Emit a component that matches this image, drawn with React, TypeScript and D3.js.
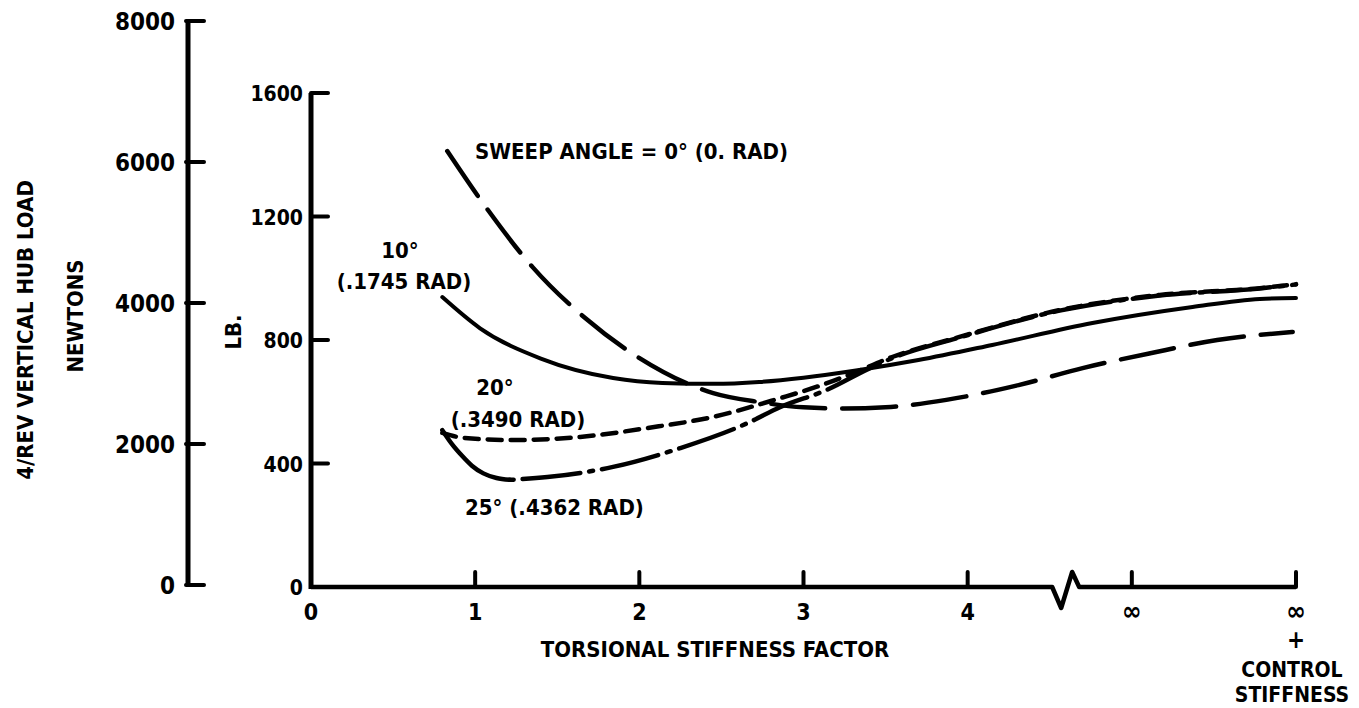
import * as d3 from 'd3'

type Pt = [number, number]

// torsional stiffness factor (5 and 6 = the two "∞" stations) vs 4/rev hub load in lb
const sweep0: Pt[] = [
  [0.83, 1412], [1.06, 1234], [1.35, 1036], [1.67, 871], [1.99, 745], [2.45, 628],
  [2.73, 599], [3.0, 582], [3.25, 578], [3.5, 582], [3.87, 606], [4.31, 654],
  [4.7, 709], [5.12, 758], [5.52, 800], [5.98, 826],
]
const sweep10: Pt[] = [
  [0.8, 939], [1.03, 838], [1.4, 740], [1.84, 677], [2.14, 661], [2.45, 658],
  [2.73, 664], [3.0, 678], [3.34, 703], [3.7, 735], [4.15, 784], [4.76, 855],
  [5.37, 907], [5.78, 933], [6.0, 936],
]
const sweep20: Pt[] = [
  [0.8, 499], [0.93, 483], [1.23, 476], [1.64, 486], [2.05, 515], [2.45, 551],
  [2.86, 612], [3.1, 652], [3.3, 692], [3.54, 745], [3.95, 810], [4.56, 897],
  [5.17, 946], [5.78, 968], [6.0, 981],
]
const sweep25: Pt[] = [
  [0.8, 508], [0.86, 462], [0.92, 425], [0.98, 393], [1.05, 368], [1.13, 353],
  [1.21, 347], [1.44, 356], [1.84, 389], [2.25, 450], [2.66, 531], [2.86, 583],
  [3.14, 638], [3.42, 713], [3.54, 741], [3.95, 808], [4.56, 895], [5.17, 944],
  [5.78, 967], [6.0, 980],
]

const xTicks = [0, 1, 2, 3, 4, 5, 6]
const xTickLabels = ['0', '1', '2', '3', '4', '∞', '∞']
const lbTicks = [0, 400, 800, 1200, 1600]
const newtonTicks = [0, 2000, 4000, 6000, 8000]
const xBreak = 4.6

const W = 1359
const H = 708
const font = "'DejaVu Sans Condensed', 'DejaVu Sans', sans-serif"

export default function App() {
  const x = d3.scaleLinear().domain([0, 6]).range([311, 1296])
  const yLb = d3.scaleLinear().domain([0, 1600]).range([587, 93])
  const yN = d3.scaleLinear().domain([0, 8000]).range([585, 21])
  const nAxisX = 188

  const line = d3
    .line<Pt>()
    .x(d => x(d[0]))
    .y(d => yLb(d[1]))
    .curve(d3.curveMonotoneX)

  const y0 = yLb(0)
  const xb = x(xBreak)
  // solid start of the 25° curve before the dash-dot begins
  const solid25 = sweep25.filter(d => d[0] <= 1.21)
  const rest25 = sweep25.filter(d => d[0] >= 1.21)

  const txt = {
    fontFamily: font,
    fontStretch: 'condensed' as const,
    fontWeight: 700,
    fill: '#000',
  }

  return (
    <svg
      width={W}
      height={H}
      style={{ position: 'absolute', left: 0, top: 0, background: '#fff' }}
    >
      {/* newtons axis */}
      <line x1={nAxisX} x2={nAxisX} y1={yN(0)} y2={yN(8000)} stroke="#000" strokeWidth={5} />
      {newtonTicks.map(t => (
        <g key={t}>
          <line x1={nAxisX - 2} x2={nAxisX + 16} y1={yN(t)} y2={yN(t)} stroke="#000" strokeWidth={4} strokeLinecap="round" />
          <text x={175} y={yN(t)} dy="0.36em" textAnchor="end" fontSize={24} {...txt}>
            {t}
          </text>
        </g>
      ))}
      <text transform={`translate(25,330) rotate(-90)`} dy="0.36em" textAnchor="middle" fontSize={22} {...txt}>
        4/REV VERTICAL HUB LOAD
      </text>
      <text transform={`translate(75,316) rotate(-90)`} dy="0.36em" textAnchor="middle" fontSize={22} {...txt}>
        NEWTONS
      </text>
      <text transform={`translate(233,332) rotate(-90)`} dy="0.36em" textAnchor="middle" fontSize={22} {...txt}>
        LB.
      </text>

      {/* lb axis */}
      <line x1={x(0)} x2={x(0)} y1={y0 + 2} y2={yLb(1600)} stroke="#000" strokeWidth={5} />
      {lbTicks.map(t => (
        <g key={t}>
          <line x1={x(0)} x2={x(0) + 17} y1={yLb(t)} y2={yLb(t)} stroke="#000" strokeWidth={4} strokeLinecap="round" />
          <text x={303} y={yLb(t)} dy="0.4em" textAnchor="end" fontSize={21} {...txt}>
            {t}
          </text>
        </g>
      ))}

      {/* x axis with break */}
      <path
        d={`M${x(0)},${y0}H${xb - 14}L${xb - 5},${y0 + 21}L${xb + 6},${y0 - 15}L${xb + 13},${y0}H${x(6)}`}
        fill="none"
        stroke="#000"
        strokeWidth={4.5}
        strokeLinejoin="round"
      />
      {xTicks.slice(1).map(t => (
        <line key={t} x1={x(t)} x2={x(t)} y1={y0} y2={y0 - 15} stroke="#000" strokeWidth={4} strokeLinecap="round" />
      ))}
      {xTicks.map((t, i) => (
        <text key={t} x={x(t)} y={620} textAnchor="middle" fontSize={i < 5 ? 23 : 26} {...txt}>
          {xTickLabels[i]}
        </text>
      ))}
      <text x={715} y={657} textAnchor="middle" fontSize={22} {...txt}>
        TORSIONAL STIFFNESS FACTOR
      </text>
      <text x={x(6)} y={648} textAnchor="middle" fontSize={24} {...txt}>
        +
      </text>
      <text x={x(6) - 4} y={677} textAnchor="middle" fontSize={21} {...txt}>
        CONTROL
      </text>
      <text x={x(6) - 4} y={702} textAnchor="middle" fontSize={21} {...txt}>
        STIFFNESS
      </text>

      {/* curves */}
      <path d={line(sweep0) ?? ''} fill="none" stroke="#000" strokeWidth={4.5} strokeDasharray="54 17" strokeLinecap="round" />
      <path d={line(sweep10) ?? ''} fill="none" stroke="#000" strokeWidth={4} strokeLinecap="round" />
      <path d={line(sweep20) ?? ''} fill="none" stroke="#000" strokeWidth={4.5} strokeDasharray="14 9" strokeLinecap="round" />
      <path d={line(solid25) ?? ''} fill="none" stroke="#000" strokeWidth={4.5} strokeLinecap="round" />
      <path d={line(rest25) ?? ''} fill="none" stroke="#000" strokeWidth={4.5} strokeDasharray="4 9 58 9" strokeLinecap="round" />

      {/* curve labels */}
      <text x={475} y={159} fontSize={22} {...txt}>
        SWEEP ANGLE = 0° (0. RAD)
      </text>
      <text x={400} y={258} textAnchor="middle" fontSize={22} {...txt}>
        10°
      </text>
      <text x={404} y={289} textAnchor="middle" fontSize={22} {...txt}>
        (.1745 RAD)
      </text>
      <text x={495} y={395} textAnchor="middle" fontSize={22} {...txt}>
        20°
      </text>
      <text x={518} y={427} textAnchor="middle" fontSize={22} {...txt}>
        (.3490 RAD)
      </text>
      <text x={465} y={515} fontSize={22} {...txt}>
        25° (.4362 RAD)
      </text>
    </svg>
  )
}
